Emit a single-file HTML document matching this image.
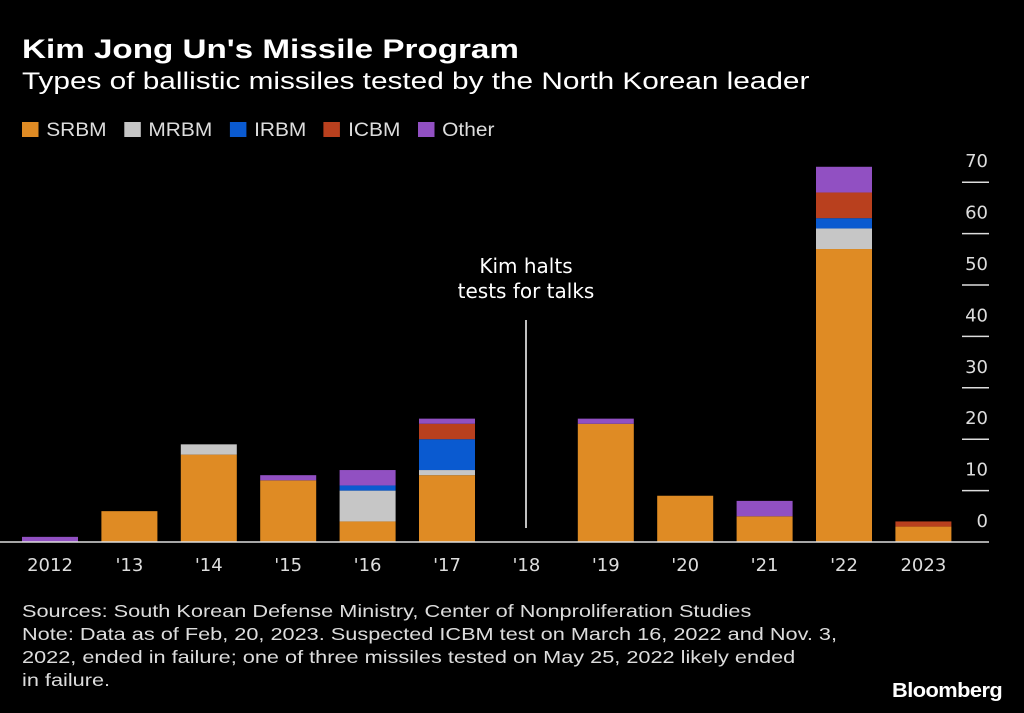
<!DOCTYPE html>
<html><head><meta charset="utf-8"><style>
body{margin:0;background:#000;width:1024px;height:713px;overflow:hidden;font-family:"Liberation Sans",sans-serif;color:#fff}
.t{position:absolute;white-space:nowrap;transform-origin:0 0}
</style></head><body>
<div class="t" style="left:22px;top:34px;font-size:27px;font-weight:bold;transform:scaleX(1.23)">Kim Jong Un's Missile Program</div>
<div class="t" style="left:22px;top:68px;font-size:24px;transform:scaleX(1.24)">Types of ballistic missiles tested by the North Korean leader</div>
<div id="legend" class="t" style="left:22px;top:120px;font-size:19px;color:#ddd;transform:scaleX(1.1)"></div>
<svg id="chart" width="1024" height="713" style="position:absolute;left:0;top:0"></svg>
<div class="t" style="left:22px;top:600px;font-size:17.5px;line-height:23px;color:#ddd;transform:scaleX(1.24)">Sources: South Korean Defense Ministry, Center of Nonproliferation Studies<br>Note: Data as of Feb, 20, 2023. Suspected ICBM test on March 16, 2022 and Nov. 3,<br>2022, ended in failure; one of three missiles tested on May 25, 2022 likely ended<br>in failure.</div>
<div class="t" style="left:892px;top:680px;font-size:20px;font-weight:bold;letter-spacing:-0.5px;transform:scaleX(1.09)">Bloomberg</div>
<script>
const categories=["2012","'13","'14","'15","'16","'17","'18","'19","'20","'21","'22","2023"];
const seriesNames=["SRBM","MRBM","IRBM","ICBM","Other"];
const seriesColors=["#df8b24","#c6c6c6","#0a5ad0","#b9401e","#9150c2"];
const srbm=[0,6,17,12,4,13,0,23,9,5,57,3];
const mrbm=[0,0,2,0,6,1,0,0,0,0,4,0];
const irbm=[0,0,0,0,1,6,0,0,0,0,2,0];
const icbm=[0,0,0,0,0,3,0,0,0,0,5,1];
const other=[1,0,0,1,3,1,0,1,0,3,5,0];
const yTicks=[0,10,20,30,40,50,60,70];
const series=[srbm,mrbm,irbm,icbm,other];
const NS="http://www.w3.org/2000/svg";
const svg=document.getElementById('chart');
const y=v=>542-v*5.14;
const x=i=>50+i*79.4;
const FONT='DejaVu Sans';
function mk(t,a){const e=document.createElementNS(NS,t);for(const k in a)e.setAttribute(k,a[k]);svg.appendChild(e);return e;}
categories.forEach((c,i)=>{let acc=0;
 series.forEach((s,j)=>{if(s[i]>0){const r=mk('rect',{x:x(i)-28,y:y(acc+s[i]),width:56,height:y(acc)-y(acc+s[i]),fill:seriesColors[j]});
 
 acc+=s[i];}});
 const t=mk('text',{x:x(i),y:571,'text-anchor':'middle','font-size':18,fill:'#ddd','font-family':FONT});t.textContent=c;
 
 
});
yTicks.forEach(v=>{if(v>0){const l=mk('line',{x1:962,x2:989,y1:y(v),y2:y(v),stroke:'#ddd','stroke-width':1.5});
 
 }
 const t=mk('text',{x:988,y:y(v)-15,'text-anchor':'end','font-size':18,fill:'#ddd','font-family':FONT});t.textContent=v;
 
 });
const base=mk('line',{x1:0,x2:989,y1:542,y2:542,stroke:'#ddd','stroke-width':1.5});


const al=mk('line',{x1:526,x2:526,y1:320,y2:528,stroke:'#fff','stroke-width':1.5});


[["Kim halts",273],["tests for talks",298]].forEach(a=>{const t=mk('text',{x:526,y:a[1],'text-anchor':'middle','font-size':20,fill:'#fff','font-family':FONT});t.textContent=a[0];
 
 });
const lg=document.getElementById('legend');
seriesNames.forEach((n,j)=>{const s=document.createElement('span');
 
 
 s.style.marginRight='16px';
 s.innerHTML='<span style="display:inline-block;width:15px;height:15px;background:'+seriesColors[j]+';margin-right:7px;vertical-align:-1px"></span>'+n;lg.appendChild(s);});
</script>
</body></html>
